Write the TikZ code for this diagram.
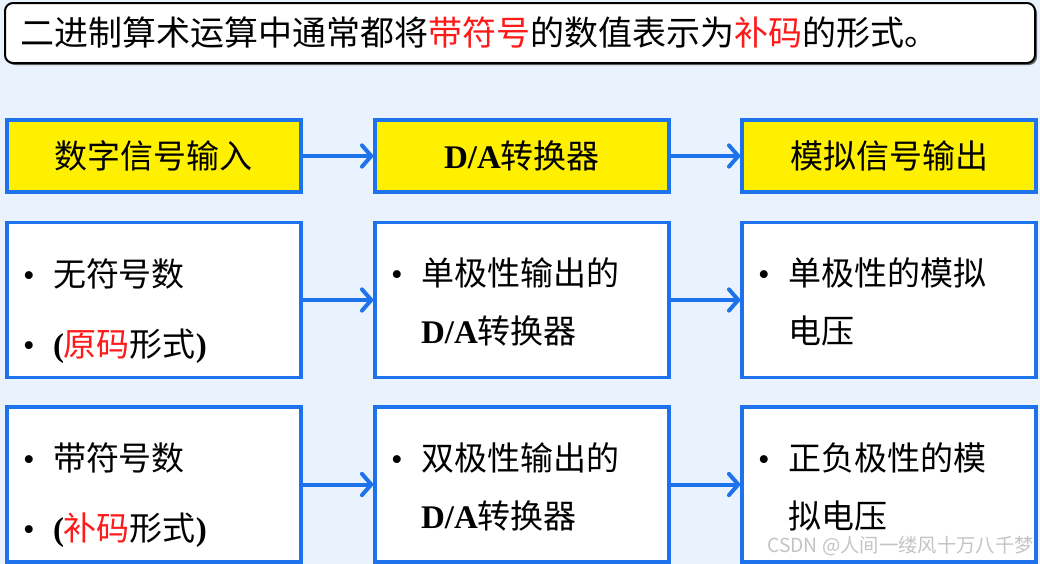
\documentclass[tikz,border=0pt]{standalone}
\usepackage{fontspec}
\setmainfont{Liberation Serif}
\newfontfamily\cjk{Noto Sans CJK SC}
\usetikzlibrary{arrows.meta,shadows}
\definecolor{bgblue}{HTML}{EAF3FD}
\definecolor{boxblue}{HTML}{1E73EC}
\definecolor{boxyellow}{HTML}{FFF000}
\definecolor{markred}{HTML}{FF1A1A}
\definecolor{wmgray}{HTML}{C4C4C4}
\newcommand{\bul}{\makebox[22.5pt][l]{\rmfamily\textbullet}}
\newcommand{\cont}{\hspace*{22.5pt}}
\newcommand{\da}{{\rmfamily\bfseries D/A}}
\newcommand{\rd}[1]{\textcolor{markred}{#1}}
\newcommand{\hi}[1]{\rule{0pt}{#1}}
\newcommand{\lo}{\rule[-5pt]{0pt}{5pt}}
\begin{document}
\begin{tikzpicture}[x=0.75pt,y=-0.75pt,
		box/.style={draw=boxblue,line width=2.6pt,inner xsep=12pt,inner ysep=0pt,minimum width=220.5pt,text width=196.5pt,font=\cjk\fontsize{24.75}{43.5}\selectfont},
		headbox/.style={box,fill=boxyellow,align=center,minimum height=54pt},
		itembox/.style={box,fill=white,align=left,minimum height=116.5pt},
		flow/.style={draw=boxblue,line width=3pt,-{Straight Barb[round,length=7pt,width=16pt]}}]
	\fill[bgblue] (0,0) rectangle (1040,564);
	% title banner
	\node (title) [draw=black,line width=1.5pt,rounded corners=6pt,fill=white,drop shadow={shadow xshift=1.5pt,shadow yshift=-1.5pt,fill=black!60,opacity=1},
		inner xsep=12pt,minimum height=45pt,text width=748.5pt,align=left,font=\cjk\fontsize{25.5}{30}\selectfont]
		at (520,33) {二进制算术运算中通常都将\rd{带符号}的数值表示为\rd{补码}的形式。};
	% first row
	\node (in)  [headbox] at (154,156) {数字信号输入};
	\node (dac) [headbox] at (522,156) {\da 转换器};
	\node (out) [headbox] at (889,156) {模拟信号输出};
	% unipolar
	\node (uin)  [itembox] at (154,300) {\hi{37.25pt}\bul 无符号数\\[9pt]\bul{\rmfamily\bfseries(}\rd{原码}形式{\rmfamily\bfseries)}\lo};
	\node (udac) [itembox] at (522,300) {\hi{26.75pt}\bul 单极性输出的\\\cont\da 转换器\lo};
	\node (uout) [itembox] at (889,300) {\hi{26.75pt}\bul 单极性的模拟\\\cont 电压\lo};
	% bipolar
	\node (bin)  [itembox] at (154,484.5) {\hi{37.25pt}\bul 带符号数\\[9pt]\bul{\rmfamily\bfseries(}\rd{补码}形式{\rmfamily\bfseries)}\lo};
	\node (bdac) [itembox] at (522,484.5) {\hi{26.75pt}\bul 双极性输出的\\\cont\da 转换器\lo};
	\node (bout) [itembox] at (889,484.5) {\hi{26.75pt}\bul 正负极性的模\\\cont 拟电压\lo};
	\draw[flow] (in) -- (dac);
	\draw[flow] (dac) -- (out);
	\draw[flow] (uin) -- (udac);
	\draw[flow] (udac) -- (uout);
	\draw[flow] (bin) -- (bdac);
	\draw[flow] (bdac) -- (bout);
	\node (mark) [anchor=east,text=wmgray,inner sep=0pt,font=\cjk\fontsize{14.5}{18}\selectfont] at (1034,546) {CSDN @人间一缕风十万八千梦};
\end{tikzpicture}
\end{document}
